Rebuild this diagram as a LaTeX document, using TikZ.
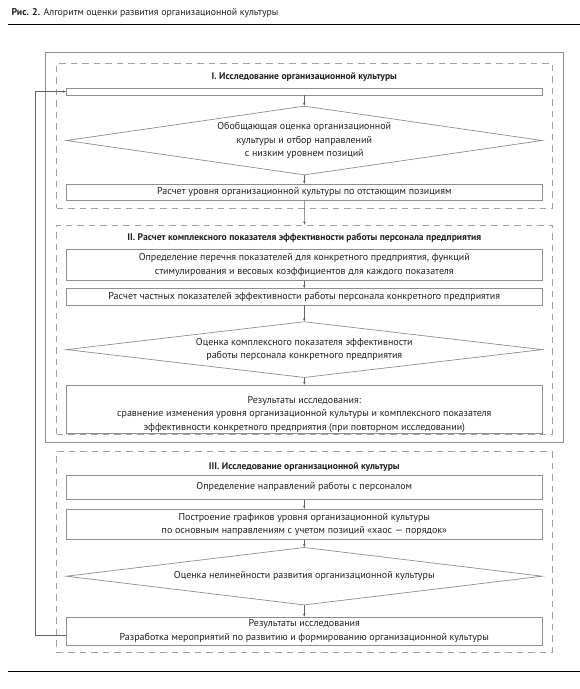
\documentclass[tikz,border=0pt]{standalone}
\usepackage{fontspec}
\setmainfont{PT Sans}
\usetikzlibrary{shapes.geometric,arrows.meta}
\definecolor{linegray}{HTML}{8E8E8E}
\definecolor{dashgray}{HTML}{A0A0A0}
\definecolor{inkblack}{HTML}{231F20}

\begin{document}
\begin{tikzpicture}[x=1pt,y=-1pt,>={Stealth[length=3.2pt,width=2.6pt]},
  every node/.style={text=inkblack,font=\fontsize{10}{13.5}\selectfont},
  blockbox/.style={draw=linegray,line width=0.7pt,rectangle,minimum width=476pt,inner sep=0pt,align=center},
  decision/.style={draw=linegray,line width=0.7pt,diamond,aspect=8,minimum width=476pt,inner sep=0pt,align=center},
  sectbox/.style={draw=dashgray,line width=0.7pt,dash pattern=on 6.5pt off 5pt,minimum width=495.6pt,inner sep=0pt},
  heading/.style={font=\fontsize{9.6}{11}\selectfont\bfseries},
  flow/.style={->,draw=linegray!70!black,line width=0.5pt}]
  \useasboundingbox (0,0) rectangle (580,689);
  \node[anchor=west,font=\fontsize{9.8}{11}\selectfont] (title) at (8,12.7) {\textbf{Рис. 2.} Алгоритм оценки развития организационной культуры};
  \draw[line width=1.2pt] (8,24.7) -- (580,24.7);
  \draw[line width=1.2pt] (8,671.7) -- (580,671.7);
  % sections
  \node[draw=linegray,line width=0.7pt,minimum width=517.6pt,minimum height=389.6pt] (outer) at (304.5,247.5) {};
  \node[sectbox,minimum height=145pt] (sec1) at (304.5,135.8) {};
  \node[sectbox,minimum height=209pt] (sec2) at (304.5,329.5) {};
  \node[sectbox,minimum height=200.3pt] (sec3) at (304.5,551.85) {};
  % I
  \node[heading] (head1) at (304.3,77.5) {I. Исследование организационной культуры};
  \node[blockbox,minimum height=7pt] (E) at (304.3,91.5) {};
  \node[decision,aspect=7,minimum height=69pt] (D1) at (304.3,140.5) {Обобщающая оценка организационной\\культуры и отбор направлений\\с низким уровнем позиций};
  \node[blockbox,minimum height=16pt] (R1) at (304.3,192) {Расчет уровня организационной культуры по отстающим позициям};
  % II
  \node[heading] (head2) at (304.3,238.3) {II. Расчет комплексного показателя эффективности работы персонала предприятия};
  \node[blockbox,minimum height=31pt] (P1) at (304.3,265) {Определение перечня показателей для конкретного предприятия, функций\\стимулирования и весовых коэффициентов для каждого показателя};
  \node[blockbox,minimum height=16.5pt] (P2) at (304.3,296.75) {Расчет частных показателей эффективности работы персонала конкретного предприятия};
  \node[decision,minimum height=56pt] (D2) at (304.3,349.6) {Оценка комплексного показателя эффективности\\работы персонала конкретного предприятия};
  \node[blockbox,minimum height=48.5pt] (R2) at (304.3,409.25) {\rule{0pt}{17.5pt}Результаты исследования:\\сравнение изменения уровня организационной культуры и комплексного показателя\\эффективности конкретного предприятия (при повторном исследовании)};
  % III
  \node[heading] (head3) at (304.3,466.7) {III. Исследование организационной культуры};
  \node[blockbox,minimum height=24.3pt] (Q1) at (304.3,487.2) {Определение направлений работы с персоналом};
  \node[blockbox,minimum height=30pt] (Q2) at (304.3,524.3) {Построение графиков уровня организационной культуры\\по основным направлениям с учетом позиций «хаос — порядок»};
  \node[decision,minimum height=57.7pt] (D3) at (304.3,576.2) {Оценка нелинейности развития организационной культуры};
  \node[blockbox,minimum height=28pt] (R3) at (304.3,631) {Результаты исследования\\Разработка мероприятий по развитию и формированию организационной культуры};
  % connectors
  \draw[flow] (E) -- (D1);
  \draw[flow] (D1) -- (R1);
  \draw[flow] (R1) -- (sec2.north);
  \draw[flow] (P1) -- (P2);
  \draw[flow] (P2) -- (D2);
  \draw[flow] (D2) -- (R2);
  \draw[flow] (Q1) -- (Q2);
  \draw[flow] (Q2) -- (D3);
  \draw[flow] (D3) -- (R3);
  \draw[flow] ([yshift=-4pt]R3.west) -- ++(-30.6,0) |- (E.west);
\end{tikzpicture}
\end{document}
